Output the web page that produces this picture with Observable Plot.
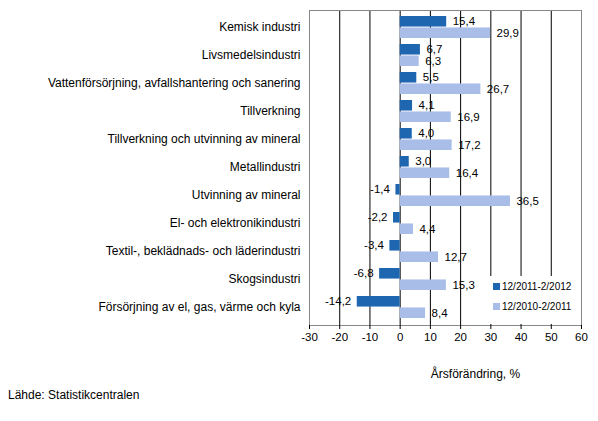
<!DOCTYPE html>
<html>
<head>
<meta charset="utf-8">
<script src="https://cdn.jsdelivr.net/npm/d3@7"></script>
<script src="https://cdn.jsdelivr.net/npm/@observablehq/plot@0.6"></script>
<style>
  body { margin: 0; background: #fff; font-family: "Liberation Sans", Arial, sans-serif; }
  #wrap { position: relative; width: 598px; height: 421px; }
  #legend { position: absolute; left: 486px; top: 276px; width: 93px; height: 48px; background: #fff; font-size: 10px; color: #000; }
  #legend div { position: absolute; left: 7px; white-space: nowrap; }
  #legend span { display: inline-block; width: 7px; height: 7px; margin-right: 2px; vertical-align: 0px; }
  #source { position: absolute; left: 8px; top: 388px; font-size: 12px; color: #000; }
</style>
</head>
<body>
<div id="wrap">
  <div id="myplot"></div>
  <div id="legend"></div>
  <div id="source">Lähde: Statistikcentralen</div>
</div>
<script>
const categories = [
  "Kemisk industri",
  "Livsmedelsindustri",
  "Vattenförsörjning, avfallshantering och sanering",
  "Tillverkning",
  "Tillverkning och utvinning av mineral",
  "Metallindustri",
  "Utvinning av mineral",
  "El- och elektronikindustri",
  "Textil-, beklädnads- och läderindustri",
  "Skogsindustri",
  "Försörjning av el, gas, värme och kyla",
];
const series = ["12/2011-2/2012", "12/2010-2/2011"];
const colors = ["#1f66b1", "#a8bee9"];
const recent = [15.4, 6.7, 5.5, 4.1, 4.0, 3.0, -1.4, -2.2, -3.4, -6.8, -14.2];
const previous = [29.9, 6.3, 26.7, 16.9, 17.2, 16.4, 36.5, 4.4, 12.7, 15.3, 8.4];
const xTicks = [-30, -20, -10, 0, 10, 20, 30, 40, 50, 60];

const rows = categories.flatMap((c, i) => [
  { category: c, series: series[0], value: recent[i] },
  { category: c, series: series[1], value: previous[i] },
]);
const fmt = (v) => v.toFixed(1).replace(".", ",");
const half = 11.45;

// value labels: right of the bar end for positive values, left for negative
const labels = (s, k) => [
  Plot.text(rows.filter((d) => d.series === s && d.value >= 0), {
    x: "value", y: "category", text: (d) => fmt(d.value), fontSize: 11.5,
    dy: k === 0 ? -half / 2 - 0.5 : half / 2 + 0.5, dx: 6, textAnchor: "start", fill: "#000",
  }),
  Plot.text(rows.filter((d) => d.series === s && d.value < 0), {
    x: "value", y: "category", text: (d) => fmt(d.value), fontSize: 11.5,
    dy: k === 0 ? -half / 2 - 0.5 : half / 2 + 0.5, dx: -6, textAnchor: "end", fill: "#000",
  }),
];

const plot = Plot.plot({
  width: 598,
  height: 421,
  marginLeft: 309,
  marginRight: 17,
  marginTop: 10,
  marginBottom: 96,
  style: { fontFamily: "Liberation Sans, Arial, sans-serif", fontSize: "11px", color: "#000", background: "#fff" },
  x: { domain: [-30, 60] },
  y: { domain: categories, paddingInner: 0.2, paddingOuter: 0.1 },
  marks: [
    Plot.gridX(xTicks, { stroke: "#000", strokeOpacity: 1 }),
    Plot.barX(rows.filter((d) => d.series === series[0]), {
      x: "value", y: "category", fill: colors[0], insetBottom: half,
    }),
    Plot.barX(rows.filter((d) => d.series === series[1]), {
      x: "value", y: "category", fill: colors[1], insetTop: half,
    }),
    ...series.flatMap(labels),
    Plot.frame({ stroke: "#888" }),
    Plot.axisX({ ticks: xTicks, tickFormat: (d) => d, tickSize: 4, tickPadding: 3, label: null, fontSize: 11.5 }),
    Plot.axisY({ tickSize: 0, tickPadding: 9, label: null, fontSize: 12 }),
    Plot.text(["Årsförändring, %"], { frameAnchor: "bottom", dx: 30, dy: 52, fill: "#000", fontSize: 12 }),
  ],
});

document.querySelector("#myplot").append(plot);

const legend = document.querySelector("#legend");
series.forEach((s, i) => {
  const row = document.createElement("div");
  row.style.top = (i === 0 ? 5 : 25) + "px";
  row.innerHTML = `<span style="background:${colors[i]}"></span>${s}`;
  legend.append(row);
});
</script>
</body>
</html>
